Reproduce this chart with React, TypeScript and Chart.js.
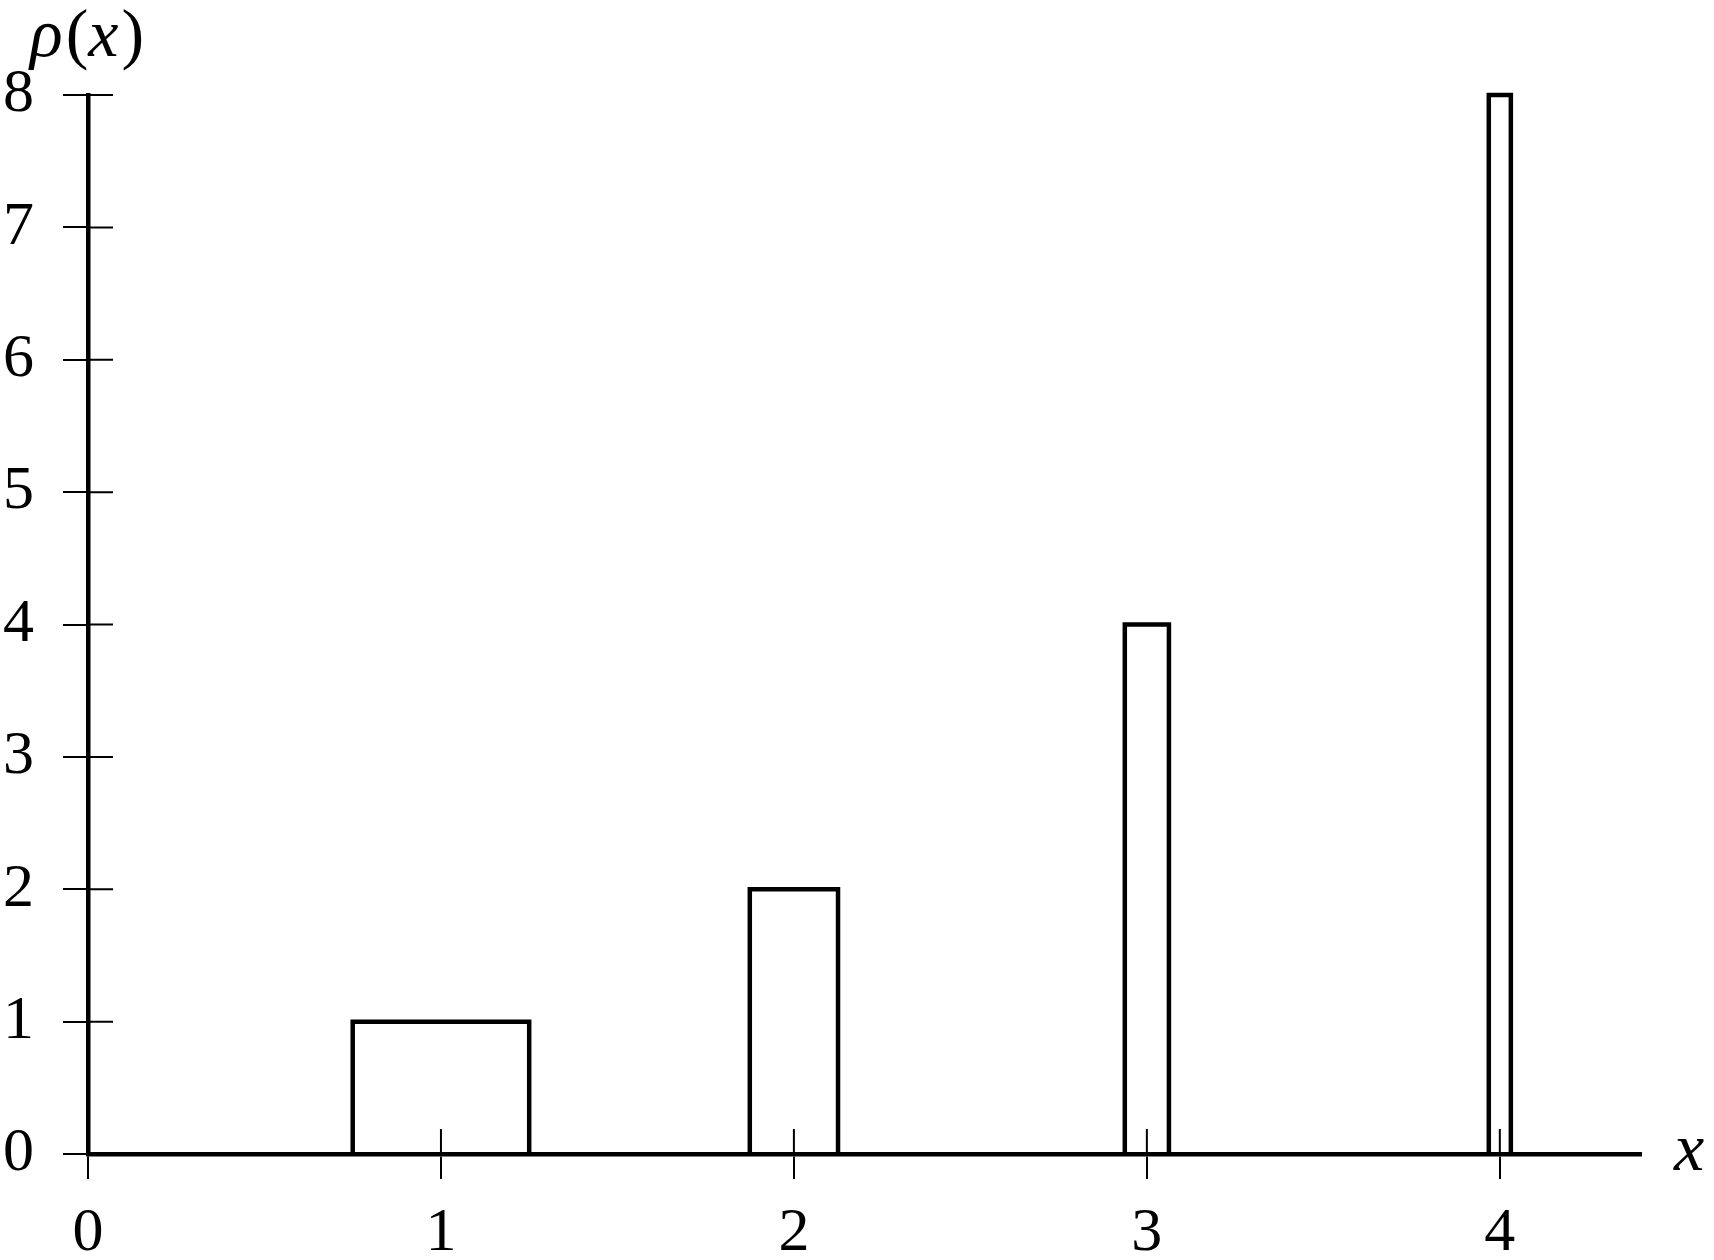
import React, { useEffect, useRef } from "react";
import { Chart, registerables } from "chart.js";

Chart.register(...registerables);

// Data
const barCenters = [1, 2, 3, 4];
const barWidths = [0.5, 0.25, 0.125, 0.0625];
const barHeights = [1, 2, 4, 8];
const xTickValues = [0, 1, 2, 3, 4];
const yTickValues = [0, 1, 2, 3, 4, 5, 6, 7, 8];
const xAxisLabel = "x";
const yAxisLabelParts = [
  { t: "ρ", italic: true },
  { t: "(", italic: false },
  { t: "x", italic: true },
  { t: ")", italic: false },
];

const FONT = "'Liberation Serif', 'DejaVu Serif', serif";
const TICK = 25;

const crossTicks = {
  id: "crossTicks",
  afterDatasetsDraw(chart: any) {
    const ctx = chart.ctx;
    const xs = chart.scales.x;
    const ys = chart.scales.y;
    const y0 = ys.getPixelForValue(0);
    const x0 = xs.getPixelForValue(0);
    ctx.save();
    ctx.strokeStyle = "#000";
    ctx.lineWidth = 2;
    ctx.beginPath();
    for (const v of xTickValues) {
      const px = xs.getPixelForValue(v);
      ctx.moveTo(px, y0);
      ctx.lineTo(px, y0 - TICK);
    }
    for (const v of yTickValues) {
      const py = ys.getPixelForValue(v);
      ctx.moveTo(x0, py);
      ctx.lineTo(x0 + TICK, py);
    }
    ctx.stroke();

    // axis labels
    ctx.fillStyle = "#000";
    ctx.textBaseline = "alphabetic";
    ctx.textAlign = "left";
    let cx = 30;
    for (const p of yAxisLabelParts) {
      ctx.font = `${p.italic ? "italic " : ""}68px ${FONT}`;
      ctx.fillText(p.t, cx, 56);
      cx += ctx.measureText(p.t).width + (p.italic ? 3 : 0);
    }
    ctx.font = `italic 68px ${FONT}`;
    ctx.fillText(xAxisLabel, 1674, 1170);
    ctx.restore();
  },
};

export default function App() {
  const ref = useRef<HTMLCanvasElement>(null);
  useEffect(() => {
    if (!ref.current) return;
    const datasets = barCenters.map((c, i) => {
      const x0 = c - barWidths[i] / 2;
      const x1 = c + barWidths[i] / 2;
      const h = barHeights[i];
      return {
        data: [
          { x: x0, y: 0 },
          { x: x0, y: h },
          { x: x1, y: h },
          { x: x1, y: 0 },
        ],
        showLine: true,
        borderColor: "#000",
        borderWidth: 4.5,
        pointRadius: 0,
        fill: false,
        tension: 0,
        clip: false as any,
        borderJoinStyle: "miter" as const,
      };
    });
    const chart = new Chart(ref.current, {
      type: "scatter",
      data: { datasets },
      options: {
        responsive: false,
        animation: false,
        events: [],
        layout: { padding: { top: 95, right: 73, left: 0, bottom: 0 } },
        plugins: { legend: { display: false }, tooltip: { enabled: false }, title: { display: false } },
        scales: {
          x: {
            type: "linear",
            min: 0,
            max: 4.4,
            afterBuildTicks: (s: any) => {
              s.ticks = xTickValues.map((v) => ({ value: v }));
            },
            afterFit: (s: any) => {
              s.height = 106;
            },
            grid: {
              drawOnChartArea: false,
              drawTicks: true,
              tickLength: TICK,
              color: "#000",
              lineWidth: 2,
            },
            border: { display: true, color: "#000", width: 4.5 },
            ticks: {
              color: "#000",
              font: { family: FONT, size: 62 },
              padding: 18,
              maxRotation: 0,
              autoSkip: false,
              callback: (v: any) => String(v),
            },
          },
          y: {
            type: "linear",
            min: 0,
            max: 8,
            afterBuildTicks: (s: any) => {
              s.ticks = yTickValues.map((v) => ({ value: v }));
            },
            afterFit: (s: any) => {
              s.width = 88;
            },
            grid: {
              drawOnChartArea: false,
              drawTicks: true,
              tickLength: TICK,
              color: "#000",
              lineWidth: 2,
            },
            border: { display: true, color: "#000", width: 4.5 },
            ticks: {
              color: "#000",
              font: { family: FONT, size: 62 },
              padding: 29,
              autoSkip: false,
              callback: (v: any) => String(v),
            },
          },
        },
      },
      plugins: [crossTicks],
    });
    return () => chart.destroy();
  }, []);
  return (
    <div style={{ position: "fixed", left: 0, top: 0, width: 1714, height: 1260, background: "#fff" }}>
      <canvas ref={ref} width={1714} height={1260} style={{ display: "block" }} />
    </div>
  );
}
